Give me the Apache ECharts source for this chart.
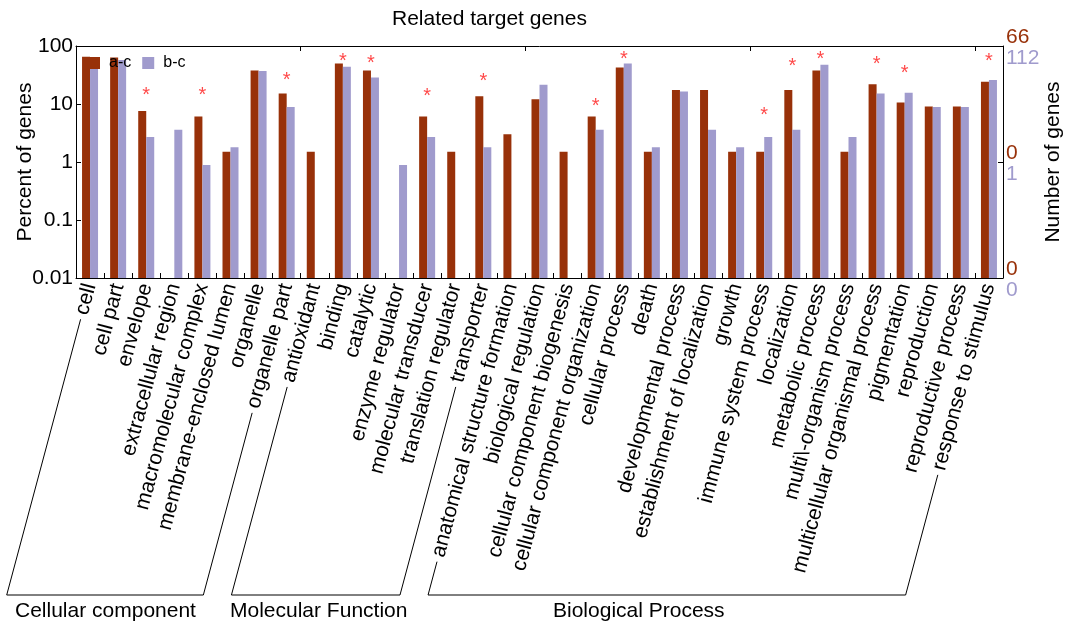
<!DOCTYPE html>
<html>
<head>
<meta charset="utf-8">
<script src="https://cdn.jsdelivr.net/npm/echarts@6/dist/echarts.min.js"></script>
<style>
  html, body { margin: 0; padding: 0; background: #fff; }
  #chart { width: 1067px; height: 623px; }
</style>
</head>
<body>
<div id="chart"></div>
<script>
// GO term categories (level 2)
const categories = [
  'cell', 'cell part', 'envelope', 'extracellular region', 'macromolecular complex',
  'membrane-enclosed lumen', 'organelle', 'organelle part',
  'antioxidant', 'binding', 'catalytic', 'enzyme regulator', 'molecular transducer',
  'translation regulator', 'transporter',
  'anatomical structure formation', 'biological regulation', 'cellular component biogenesis',
  'cellular component organization', 'cellular process', 'death', 'developmental process',
  'establishment of localization', 'growth', 'immune system process', 'localization',
  'metabolic process', 'multi\\-organism process', 'multicellular organismal process',
  'pigmentation', 'reproduction', 'reproductive process', 'response to stimulus'
];

// Percent of genes, a-c comparison (null = no genes)
const pctAC = [
  65.2, 63.6, 7.6, null, 6.1, 1.5, 37.9, 15.2,
  1.5, 50.0, 37.9, null, 6.1, 1.5, 13.6,
  3.0, 12.1, 1.5, 6.1, 42.4, 1.5, 17.4, 17.4, 1.5, 1.5, 17.4,
  37.9, 1.5, 22.0, 10.6, 9.1, 9.1, 24.2
];

// Percent of genes, b-c comparison (null = no genes)
const pctBC = [
  43.8, 57.1, 2.7, 3.6, 0.89, 1.8, 37.0, 8.9,
  null, 43.8, 28.6, 0.89, 2.7, null, 1.8,
  null, 21.4, null, 3.6, 50.0, 1.8, 16.5, 3.6, 1.8, 2.7, 3.6,
  47.3, 2.7, 15.2, 15.7, 8.9, 8.9, 25.9
];

// Significance markers (height in percent units where an asterisk is drawn)
const starAt = [
  null, null, 18.1, null, 18.1, null, null, 32.9,
  null, 68.0, 64.6, null, 17.4, null, 31.6,
  null, null, null, 11.3, 75.7, null, null, null, null, 7.9, 55.8,
  75.7, null, 62.1, 42.3, null, null, 68.0
];

// Right-hand gene count labels at 0.01, 1, 100
const countLabelsAC = ['0', '0', '66'];
const countLabelsBC = ['0', '1', '112'];

// GO domains spanning the categories
const groupNames = ['Cellular component', 'Molecular Function', 'Biological Process'];
const groupFirst = [0, 8, 15];
const groupLast = [7, 14, 32];

const FONT = '"Liberation Sans", Arial, Helvetica, sans-serif';
const RED = '#983109';
const BLUE = '#a09bcd';
const GRID = { left: 76, right: 64, top: 46, bottom: 345 };
const ROT = 75;
const LABEL_SIZE = 21;
const LABEL_MARGIN = 6;

const chart = echarts.init(document.getElementById('chart'), null, { renderer: 'canvas' });

const axisLine = { show: true, lineStyle: { color: '#000', width: 1 } };
const innerTick = { show: true, inside: true, length: 5, lineStyle: { color: '#000', width: 1 } };

chart.setOption({
  animation: false,
  backgroundColor: '#fff',
  title: {
    text: 'Related target genes',
    left: 392, top: 9, padding: 0,
    textStyle: { fontFamily: FONT, fontSize: 21, fontWeight: 'normal', color: '#000' }
  },
  legend: {
    data: ['a-c', 'b-c'],
    left: 88, top: 55, padding: 0,
    icon: 'rect', itemWidth: 12, itemHeight: 12, itemGap: 11,
    textStyle: { fontFamily: FONT, fontSize: 16, color: '#000', padding: [0, 0, 0, 4] }
  },
  grid: Object.assign({ containLabel: false, outerBoundsMode: 'none' }, GRID),
  xAxis: [
    {
      type: 'category', data: categories, position: 'bottom',
      axisLine: axisLine, axisTick: innerTick,
      axisLabel: {
        interval: 0, rotate: ROT, margin: LABEL_MARGIN,
        fontFamily: FONT, fontSize: LABEL_SIZE, color: '#000'
      },
      splitLine: { show: false }
    },
    {
      type: 'category', data: categories, position: 'top',
      axisLine: axisLine, axisTick: innerTick,
      axisLabel: { show: false }, splitLine: { show: false }
    }
  ],
  yAxis: [
    {
      type: 'log', logBase: 10, min: 0.01, max: 100, startValue: 0.01,
      position: 'left',
      name: 'Percent of genes', nameLocation: 'middle', nameRotate: 90, nameGap: 40,
      nameMoveOverlap: false,
      nameTextStyle: { fontFamily: FONT, fontSize: 21, color: '#000' },
      axisLine: axisLine, axisTick: innerTick,
      axisLabel: {
        margin: 3, fontFamily: FONT, fontSize: 21, color: '#000',
        formatter: function (v) {
          const e = Math.round(Math.log10(v));
          const p = Math.pow(10, e);
          return e >= 0 ? String(p) : p.toFixed(-e);
        }
      },
      splitLine: { show: false }, minorTick: { show: false }
    },
    {
      type: 'log', logBase: 100, min: 0.01, max: 100,
      position: 'right',
      name: 'Number of genes', nameLocation: 'middle', nameRotate: 90, nameGap: 40,
      nameMoveOverlap: false,
      nameTextStyle: { fontFamily: FONT, fontSize: 21, color: '#000' },
      axisLine: axisLine, axisTick: innerTick,
      axisLabel: {
        margin: 3, fontFamily: FONT, padding: [4, 0, 0, 0],
        formatter: function (v) {
          const i = Math.round(Math.log10(v) / 2) + 1;
          return '{a|' + countLabelsAC[i] + '}\n{b|' + countLabelsBC[i] + '}';
        },
        rich: {
          a: { color: RED, fontFamily: FONT, fontSize: 21, lineHeight: 21 },
          b: { color: BLUE, fontFamily: FONT, fontSize: 21, lineHeight: 21 }
        }
      },
      splitLine: { show: false }
    }
  ],
  series: [
    {
      name: 'a-c', type: 'bar', data: pctAC,
      barWidth: 8, barGap: '0%',
      itemStyle: { color: RED }
    },
    {
      name: 'b-c', type: 'bar', data: pctBC,
      barWidth: 8, barGap: '0%',
      itemStyle: { color: BLUE }
    },
    {
      name: 'significant', type: 'scatter', data: starAt,
      symbolSize: 1, itemStyle: { color: 'rgba(0,0,0,0)' },
      label: {
        show: true, formatter: '*', position: 'inside', offset: [0, 6],
        fontFamily: FONT, fontSize: 20, color: '#ff1a1a'
      },
      z: 5
    }
  ]
});

// Domain brackets: each side follows the rotated label of the first/last category
(function drawBrackets() {
  const ctx = document.createElement('canvas').getContext('2d');
  ctx.font = LABEL_SIZE + 'px ' + FONT;
  const rad = ROT * Math.PI / 180;
  const cos = Math.cos(rad), sin = Math.sin(rad), tan = Math.tan(rad);
  const axisY = 623 - GRID.bottom;
  const baseY = 595;
  const gap = 5;
  const labelStart = function (i) {
    const x = chart.convertToPixel({ xAxisIndex: 0 }, categories[i]);
    const d = ctx.measureText(categories[i]).width + gap;
    return [x - d * cos, axisY + LABEL_MARGIN + d * sin];
  };
  const down = function (p) { return [p[0] - (baseY - p[1]) / tan, baseY]; };
  const textX = [15, 230, 553];
  const elements = [];
  groupNames.forEach(function (name, g) {
    const a = labelStart(groupFirst[g]);
    const b = labelStart(groupLast[g]);
    elements.push({
      type: 'polyline',
      shape: { points: [a, down(a), down(b), b] },
      style: { stroke: '#000', lineWidth: 1, fill: null }
    });
    elements.push({
      type: 'text', x: textX[g], y: 611,
      style: { text: name, font: '21px ' + FONT, fill: '#000', verticalAlign: 'middle' }
    });
  });
  chart.setOption({ graphic: { elements: elements } });
})();
</script>
</body>
</html>
